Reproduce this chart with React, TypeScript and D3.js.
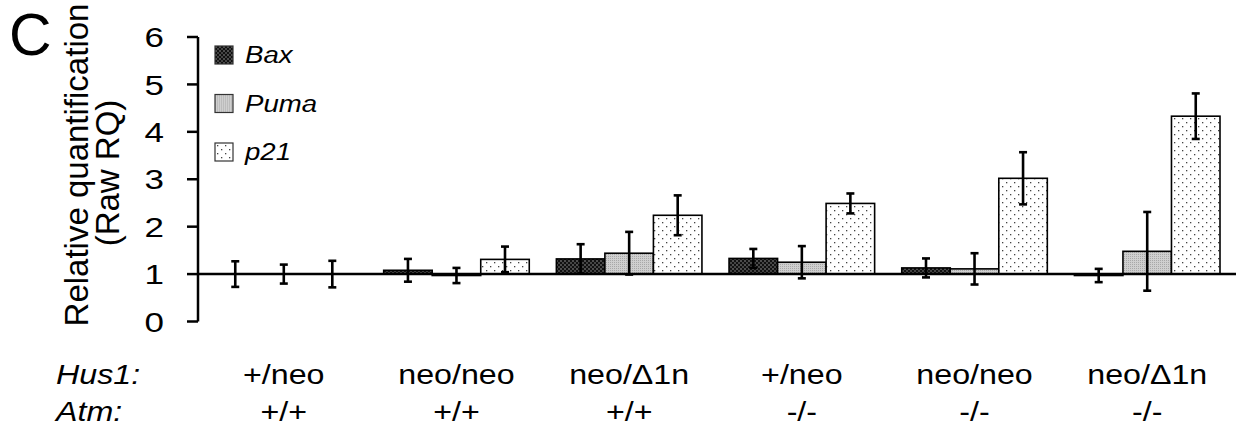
import React from "react";
import * as d3 from "d3";

const groups = ["g1", "g2", "g3", "g4", "g5", "g6"];
const hus1Labels = ["+/neo", "neo/neo", "neo/Δ1n", "+/neo", "neo/neo", "neo/Δ1n"];
const atmLabels = ["+/+", "+/+", "+/+", "-/-", "-/-", "-/-"];
const series = ["Bax", "Puma", "p21"];
const baxValues = [1.0, 1.08, 1.32, 1.33, 1.13, 0.97];
const baxErrors = [0.27, 0.24, 0.31, 0.2, 0.2, 0.14];
const pumaValues = [1.0, 0.97, 1.44, 1.25, 1.11, 1.48];
const pumaErrors = [0.2, 0.16, 0.45, 0.34, 0.33, 0.83];
const p21Values = [1.0, 1.31, 2.24, 2.49, 3.02, 4.33];
const p21Errors = [0.28, 0.27, 0.42, 0.21, 0.55, 0.48];
const yTicks = [0, 1, 2, 3, 4, 5, 6];

const W = 1236;
const H = 431;
const FONT = "'Liberation Sans', Arial, sans-serif";
const SX = 1.15;

const fills: Record<string, string> = {
  Bax: "url(#patBax)",
  Puma: "url(#patPuma)",
  p21: "url(#patP21)",
};

function T(props: {
  x: number;
  y: number;
  size: number;
  anchor?: string;
  italic?: boolean;
  sx?: number;
  dy?: string;
  children: React.ReactNode;
}) {
  const { x, y, size, anchor = "start", italic = false, sx = SX, dy, children } = props;
  return (
    <text
      transform={`translate(${x},${y}) scale(${sx},1)`}
      fontSize={size}
      textAnchor={anchor}
      fontStyle={italic ? "italic" : "normal"}
      dy={dy}
      fill="#000"
    >
      {children}
    </text>
  );
}

export default function App() {
  const x = d3.scaleBand<string>().domain(groups).range([211, 1220]).paddingInner(0.157);
  const xs = d3.scaleBand<string>().domain(series).range([0, x.bandwidth()]);
  const y = d3.scaleLinear().domain([0, 6]).range([321.5, 37]);
  const axisX = 198;
  const base = 1;

  const data = series.map((s, si) => ({
    s,
    vals: [baxValues, pumaValues, p21Values][si],
    errs: [baxErrors, pumaErrors, p21Errors][si],
  }));

  const cap = 4;

  return (
    <svg
      width={W}
      height={H}
      style={{ position: "absolute", left: 0, top: 0, background: "#fff" }}
      fontFamily={FONT}
    >
      <defs>
        <pattern id="patBax" width="4" height="4" patternUnits="userSpaceOnUse">
          <rect width="4" height="4" fill="#111" />
          <rect x="0.5" y="0.5" width="1" height="1" fill="#fff" />
          <rect x="2.5" y="2.5" width="1" height="1" fill="#ddd" />
        </pattern>
        <pattern id="patPuma" width="2" height="2" patternUnits="userSpaceOnUse">
          <rect width="2" height="2" fill="#cfcfcf" />
          <rect width="1" height="1" fill="#a8a8a8" />
        </pattern>
        <pattern id="patP21" width="8" height="8" patternUnits="userSpaceOnUse">
          <rect width="8" height="8" fill="#fff" />
          <rect x="2" y="2" width="1.3" height="1.3" fill="#444" />
          <rect x="6" y="6" width="1.3" height="1.3" fill="#444" />
        </pattern>
      </defs>
      <rect width={W} height={H} fill="#fff" />

      {/* Panel letter */}
      <text x={9} y={55} fontSize={59} fill="#000">C</text>

      {/* Y title */}
      <g transform={`translate(88,165) rotate(-90)`}>
        <text textAnchor="middle" fontSize={33} fill="#000">Relative quantification</text>
      </g>
      <g transform={`translate(119,173) rotate(-90)`}>
        <text textAnchor="middle" fontSize={33} fill="#000">(Raw RQ)</text>
      </g>

      {/* Bars */}
      {data.map((d) =>
        groups.map((g, i) => {
          const v = d.vals[i];
          const x0 = (x(g) as number) + (xs(d.s) as number);
          const yTop = Math.min(y(v), y(base));
          const h = Math.abs(y(v) - y(base));
          if (h < 0.5) return null;
          return (
            <rect
              key={d.s + g}
              x={x0}
              y={yTop}
              width={xs.bandwidth()}
              height={h}
              fill={fills[d.s]}
              stroke="#000"
              strokeWidth={1.6}
            />
          );
        })
      )}

      {/* Baseline at 1 */}
      <line x1={axisX} x2={W} y1={y(base)} y2={y(base)} stroke="#000" strokeWidth={2.5} />

      {/* Y axis */}
      <line x1={axisX} x2={axisX} y1={y(0)} y2={y(6)} stroke="#000" strokeWidth={2.5} />
      {yTicks.map((t) => (
        <g key={t}>
          <line x1={axisX - 11} x2={axisX} y1={y(t)} y2={y(t)} stroke="#000" strokeWidth={2.5} />
          <T x={164} y={y(t)} dy="0.36em" anchor="end" size={28} sx={1.25}>
            {t}
          </T>
        </g>
      ))}

      {/* Error bars */}
      {data.map((d) =>
        groups.map((g, i) => {
          const v = d.vals[i];
          const e = d.errs[i];
          const cx = (x(g) as number) + (xs(d.s) as number) + xs.bandwidth() / 2;
          return (
            <g key={"e" + d.s + g} stroke="#000" strokeWidth={2.6}>
              <line x1={cx} x2={cx} y1={y(v + e)} y2={y(v - e)} />
              <line x1={cx - cap} x2={cx + cap} y1={y(v + e)} y2={y(v + e)} />
              <line x1={cx - cap} x2={cx + cap} y1={y(v - e)} y2={y(v - e)} />
            </g>
          );
        })
      )}

      {/* Legend */}
      {series.map((s, i) => (
        <g key={"lg" + s} transform={`translate(215,${46 + i * 48.5})`}>
          <rect width={18} height={18} fill={fills[s]} stroke="#333" strokeWidth={1.2} />
          <T x={30} y={17} size={24} italic>
            {s}
          </T>
        </g>
      ))}

      {/* Category labels */}
      <T x={56} y={384} size={28} italic>Hus1:</T>
      <T x={56} y={421} size={28} italic>Atm:</T>
      {groups.map((g, i) => (
        <g key={"lab" + g}>
          <T x={(x(g) as number) + x.bandwidth() / 2} y={384} anchor="middle" size={28}>
            {hus1Labels[i]}
          </T>
          <T x={(x(g) as number) + x.bandwidth() / 2} y={421} anchor="middle" size={28}>
            {atmLabels[i]}
          </T>
        </g>
      ))}
    </svg>
  );
}
